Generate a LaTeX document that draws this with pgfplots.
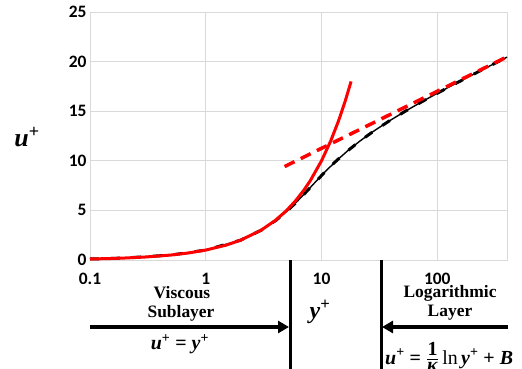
\documentclass[border=0pt]{standalone}
\usepackage{pgfplots}
\pgfplotsset{compat=1.18}
\usepackage{fontspec}
\setmainfont{Liberation Serif}
\newfontfamily\calfont{Carlito}
\usetikzlibrary{arrows.meta}
\begin{document}
\begin{tikzpicture}
\useasboundingbox (-90bp,-109bp) rectangle (432bp,260bp);
\clip (-90bp,-109bp) rectangle (432bp,260bp);
\begin{axis}[
  name=ax,
  scale only axis,
  width=417bp, height=248bp,
  xmode=log,
  xmin=0.1, xmax=400,
  ymin=0, ymax=25,
  xtick={0.1,1,10,100},
  xticklabels={0.1,1,10,100},
  ytick={0,5,10,15,20,25},
  grid=major,
  major grid style={draw=black!15, line width=0.8bp},
  axis line style={draw=black!15, line width=0.8bp},
  tick style={draw=none},
  /pgf/number format/assume math mode=true,
  ticklabel style={font=\calfont\bfseries\fontsize{17.5}{18}\selectfont},
  xticklabel style={yshift=-10bp},
  clip=false,
]
\addplot[black, line width=1.4bp] coordinates {
(0.1,0.1)(0.2,0.2)(0.5,0.5)(1,1)(2.002,2)(3.012,3)(4.043,4)(5.117,5)(6.27,6)(7.561,7)(9.08,8)(10.966,9)(13.427,10)(16.78,11)(21.5,12)(28.3,13)(38.25,14)(52.94,15)(74.75,16)(107.25,17)(155.74,18)(228.14,19)(336.3,20)(400,20.45)
};
\addplot[black, line width=3bp, dash pattern=on 9bp off 12bp] coordinates {
(0.1,0.1)(0.2,0.2)(0.5,0.5)(1,1)(2.002,2)(3.012,3)(4.043,4)(5.117,5)(6.27,6)(7.561,7)(9.08,8)(10.966,9)(13.427,10)(16.78,11)(21.5,12)(28.3,13)(38.25,14)(52.94,15)(74.75,16)(107.25,17)(155.74,18)(228.14,19)(336.3,20)(400,20.45)
};
\addplot[red, line width=3bp] coordinates {
(0.1,0.1)(0.15,0.15)(0.2,0.2)(0.3,0.3)(0.5,0.5)(0.7,0.7)(1,1)(1.5,1.5)(2,2)(3,3)(4,4)(5,5)(6,6)(7,7)(8,8)(10,10)(12,12)(14,14)(16,16)(18,18)
};
\addplot[red, line width=3.5bp, dash pattern=on 11bp off 7bp] coordinates {
(4.8,9.42)(10,11.26)(30,14.0)(100,17.01)(400,20.48)
};
\end{axis}
\begin{scope}[line width=3bp]
\draw (200bp,0) -- (200bp,-115bp);
\draw (291bp,0) -- (291bp,-115bp);
\end{scope}
\draw[line width=4bp, -{Triangle[length=11bp,width=12bp]}] (0,-67bp) -- (199bp,-67bp);
\draw[line width=4bp, -{Triangle[length=11bp,width=12bp]}] (418bp,-67bp) -- (292bp,-67bp);
\begin{scope}[font=\bfseries\fontsize{17.5}{18}\selectfont]
\node at (92bp,-33bp) {Viscous};
\node at (91bp,-53bp) {Sublayer};
\node at (360bp,-33bp) {Logarithmic};
\node at (360bp,-53bp) {Layer};
\node[font=\bfseries\fontsize{20}{22}\selectfont] at (90bp,-84bp) {\textit{u}\textsuperscript{+} = \textit{y}\textsuperscript{+}};
\node[font=\bfseries\fontsize{24}{24}\selectfont] at (230bp,-52bp) {\textit{y}\textsuperscript{+}};
\node[anchor=west, inner sep=0pt, font=\bfseries\fontsize{20}{22}\selectfont] at (295bp,-97bp) {\textit{u}\textsuperscript{+} = $\frac{\mbox{\bfseries 1}}{\mbox{\bfseries\itshape κ}}$\,\mdseries ln\,\bfseries\textit{y}\textsuperscript{+} + \textit{B}};
\end{scope}
\node[font=\bfseries\fontsize{26}{26}\selectfont] at (-63bp,123bp) {\textit{u}\textsuperscript{+}};
\end{tikzpicture}
\end{document}
